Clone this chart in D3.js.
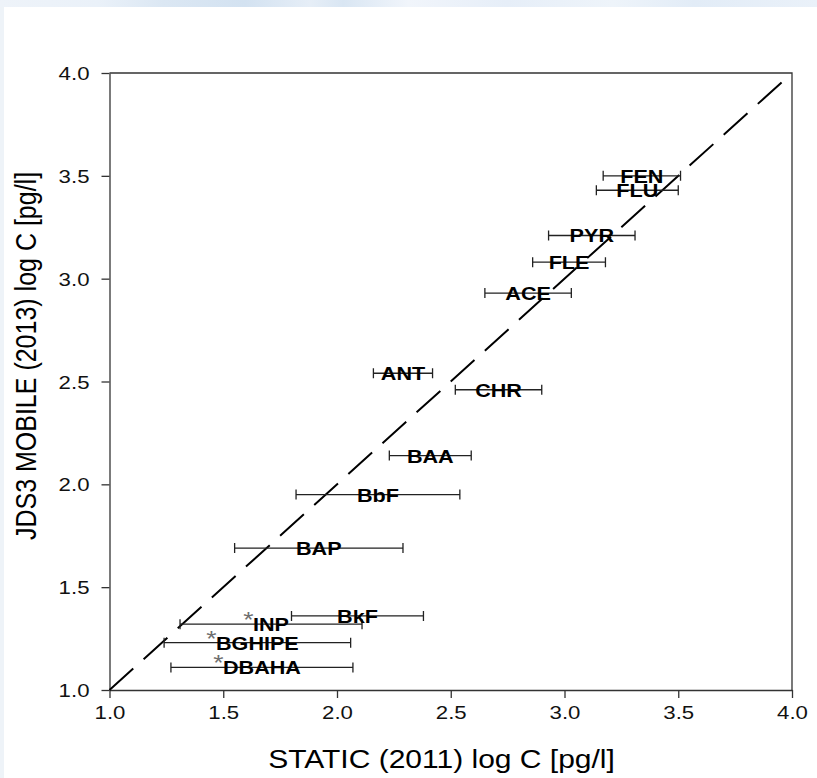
<!DOCTYPE html>
<html>
<head>
<meta charset="utf-8">
<script src="https://cdn.jsdelivr.net/npm/d3@7"></script>
<style>
  html, body { margin: 0; padding: 0; background: #ffffff; }
  svg { display: block; }
  text { font-family: "Liberation Sans", Arial, sans-serif; }
</style>
</head>
<body>
<svg id="chart" width="817" height="778"></svg>
<script>
// PAH compounds: static (2011) vs mobile (2013) log concentrations
const compounds = ["FEN", "FLU", "PYR", "FLE", "ACE", "ANT", "CHR", "BAA", "BbF", "BAP", "BkF", "INP", "BGHIPE", "DBAHA"];
const staticLogC = [3.34, 3.32, 3.12, 3.02, 2.84, 2.29, 2.71, 2.41, 2.18, 1.92, 2.09, 1.71, 1.65, 1.67];
const staticErr  = [0.17, 0.18, 0.19, 0.16, 0.19, 0.13, 0.19, 0.18, 0.36, 0.37, 0.29, 0.40, 0.41, 0.40];
const mobileLogC = [3.50, 3.43, 3.21, 3.08, 2.93, 2.54, 2.46, 2.14, 1.95, 1.69, 1.36, 1.32, 1.23, 1.11];
const starred    = [false, false, false, false, false, false, false, false, false, false, false, true, true, true];

const axisTicks = [1.0, 1.5, 2.0, 2.5, 3.0, 3.5, 4.0];
const identityLine = [1.0, 4.0];
const xTitle = "STATIC (2011) log C [pg/l]";
const yTitle = "JDS3 MOBILE (2013) log C [pg/l]";

const SX = 1.2; // horizontal glyph stretch used for all lettering

const svg = d3.select("#chart");

// soft blue banner along the top edge and a faint strip on the left
const defs = svg.append("defs");
const grad = defs.append("linearGradient").attr("id", "banner").attr("x1", 0).attr("x2", 1).attr("y1", 0).attr("y2", 0);
[[0, "#eef3f9"], [0.12, "#eaf1f9"], [0.2, "#dbe7f3"], [0.3, "#d3e2f1"], [0.38, "#e6eef7"],
 [0.42, "#d9e6f3"], [0.5, "#f1f5fb"], [0.62, "#e6eef8"], [0.75, "#eef4fa"], [0.85, "#e2ecf7"], [1, "#eaf1f9"]]
  .forEach(([o, c]) => grad.append("stop").attr("offset", o).attr("stop-color", c));
svg.append("rect").attr("x", 0).attr("y", 0).attr("width", 817).attr("height", 7).attr("fill", "url(#banner)");
svg.append("rect").attr("x", 0).attr("y", 7).attr("width", 4).attr("height", 771).attr("fill", "#eef3f8");

const x = d3.scaleLinear().domain([1, 4]).range([109.5, 792]);
const y = d3.scaleLinear().domain([1, 4]).range([690, 73]);

const axisColor = "#333";

// x axis
const gx = svg.append("g").attr("transform", `translate(0,${y(1)})`)
  .call(d3.axisBottom(x).tickValues(axisTicks).tickFormat(d3.format(".1f")).tickSizeInner(8).tickSizeOuter(0).tickPadding(8));
// y axis
const gy = svg.append("g").attr("transform", `translate(${x(1)},0)`)
  .call(d3.axisLeft(y).tickValues(axisTicks).tickFormat(d3.format(".1f")).tickSizeInner(8).tickSizeOuter(0).tickPadding(8.7));

[gx, gy].forEach(g => {
  g.select(".domain").attr("stroke", axisColor).attr("stroke-width", 1.3);
  g.selectAll(".tick line").attr("stroke", axisColor).attr("stroke-width", 1.3);
  g.selectAll(".tick text").attr("fill", "#111").attr("font-size", 18.5)
    .attr("font-family", "Liberation Sans, Arial, sans-serif")
    .attr("transform", `scale(${SX},1)`);
});
gy.selectAll(".tick text").attr("dy", "0.36em");

// top and right frame
svg.append("path")
  .attr("d", `M${x(1)},${y(4)}H${x(4)}V${y(1)}`)
  .attr("fill", "none").attr("stroke", axisColor).attr("stroke-width", 1.3);

// 1:1 reference line
svg.append("path")
  .datum(identityLine)
  .attr("d", d3.line().x(d => x(d)).y(d => y(d)))
  .attr("fill", "none").attr("stroke", "#000").attr("stroke-width", 2)
  .attr("stroke-dasharray", "32,14");

// error bars
const pts = compounds.map((name, i) => ({
  name, xv: staticLogC[i], err: staticErr[i], yv: mobileLogC[i], star: starred[i]
}));

const bars = svg.append("g").attr("stroke", "#222").attr("stroke-width", 1.3).attr("fill", "none");
const capH = 5;
pts.forEach(p => {
  const x0 = x(p.xv - p.err), x1 = x(p.xv + p.err), yy = y(p.yv);
  bars.append("path").attr("d",
    `M${x0},${yy}H${x1}M${x0},${yy - capH}V${yy + capH}M${x1},${yy - capH}V${yy + capH}`);
});

// compound labels centred on each point
const labels = svg.append("g");
pts.forEach(p => {
  const g = labels.append("g").attr("transform", `translate(${x(p.xv)},${y(p.yv) + 7}) scale(${SX},1)`);
  const t = g.append("text").attr("text-anchor", "middle").attr("font-size", 18)
    .attr("font-weight", "bold").attr("fill", "#000").text(p.name);
  if (p.star) {
    const len = t.node().getComputedTextLength();
    g.append("text").attr("x", -len / 2 + 0.5).attr("y", -4).attr("text-anchor", "end")
      .attr("font-size", 22).attr("fill", "#6e6e6e").text("*");
  }
});

// axis titles
svg.append("g").attr("transform", `translate(441.5,767.5) scale(${SX},1)`)
  .append("text").attr("text-anchor", "middle").attr("font-size", 25).attr("fill", "#000").text(xTitle);
svg.append("g").attr("transform", `translate(35.5,356) scale(${SX},1) rotate(-90)`)
  .append("text").attr("text-anchor", "middle").attr("font-size", 25).attr("fill", "#000").text(yTitle);
</script>
</body>
</html>
